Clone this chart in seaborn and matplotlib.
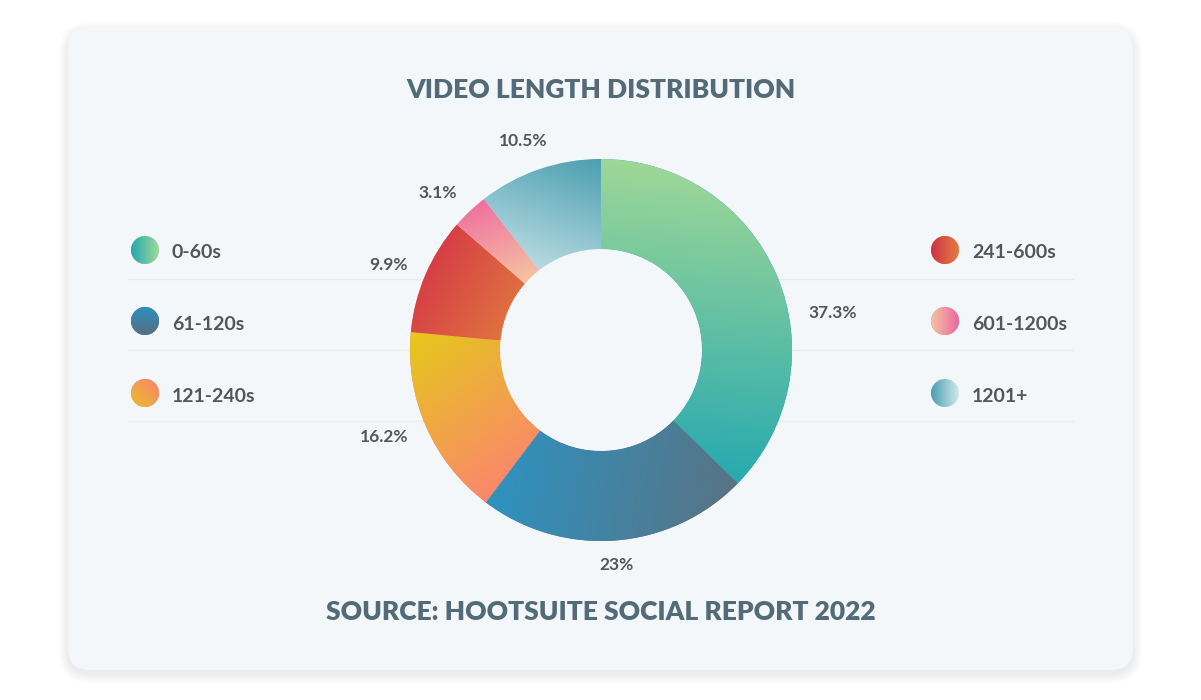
import numpy as np
import seaborn as sns
import matplotlib.pyplot as plt
from matplotlib.patches import FancyBboxPatch, Circle

categories = ['0-60s', '61-120s', '121-240s', '241-600s', '601-1200s', '1201+']
shares = [37.3, 23, 16.2, 9.9, 3.1, 10.5]

# gradient pairs (start -> end) for slices, plus direction in degrees
slice_grad = [('#a4da96', '#22a7b1', -95), ('#2c94c3', '#5a7282', -10),
              ('#e4c91a', '#ff7b7b', -55), ('#d22c48', '#e27d3e', -30),
              ('#ef67a0', '#f6c9a2', -70), ('#4b9eb0', '#c8e4e9', -110)]
legend_grad = [('#22a8ae', '#a2d99a', 0), ('#2e8fbf', '#557080', -90),
               ('#e8c028', '#fc8070', 45), ('#d0304a', '#e27e40', 0),
               ('#f2c6a0', '#ee65a0', 0), ('#4a9eb0', '#d2e9ec', 0)]
# small angular nudge of the outside labels (deg)
label_nudge = [-13, 0, 0, 0, 0, -4]

W, H = 1201, 700
BG = '#f4f7fa'
TXT = '#555555'
HEAD = '#536b78'

sns.set_theme(style='white')
plt.rcParams['font.family'] = ['Lato', 'DejaVu Sans']

fig = plt.figure(figsize=(W / 100, H / 100), dpi=100)
fig.patch.set_facecolor('white')
ax = fig.add_axes([0, 0, 1, 1])
ax.set_axis_off()


def Y(y):
    return H - y


def grad_fill(patch, c1, c2, angle, z):
    bb = patch.get_path().get_extents(patch.get_patch_transform())
    x0, y0, x1, y1 = bb.x0, bb.y0, bb.x1, bb.y1
    g = np.linspace(0, 1, 300)
    gx, gy = np.meshgrid(g, g)
    a = np.deg2rad(angle)
    proj = gx * np.cos(a) * (x1 - x0) + gy * np.sin(a) * (y1 - y0)
    t = (proj - proj.min()) / (proj.max() - proj.min())
    cmap = sns.blend_palette([c1, c2], n_colors=256, as_cmap=True)
    im = ax.imshow(t, cmap=cmap, extent=[x0, x1, y0, y1], origin='lower',
                   aspect='auto', interpolation='bilinear', zorder=z)
    im.set_clip_path(patch)


# card with soft shadow
for i in range(10):
    ax.add_patch(FancyBboxPatch((68 - i, Y(670) - 4 - i), 1065 + 2 * i, 643 + 2 * i,
                                boxstyle='round,pad=0,rounding_size=%d' % (22 + i),
                                fc='#8a96a0', ec='none', alpha=0.012, zorder=0))
ax.add_patch(FancyBboxPatch((68, Y(670)), 1065, 643,
                            boxstyle='round,pad=0,rounding_size=22',
                            fc=BG, ec='none', zorder=1))

# separator lines
for y in [279, 350, 421]:
    ax.plot([128, 1073], [Y(y), Y(y)], color='#ecebe9', lw=1, zorder=2)

cx, cy, R = 601, Y(350), 191
wedges, _ = ax.pie(shares, radius=R, center=(cx, cy), startangle=90,
                   counterclock=False, frame=True,
                   wedgeprops=dict(width=90, linewidth=0))
for w, (c1, c2, ang) in zip(wedges, slice_grad):
    w.set_facecolor(c2)
    w.set_zorder(3)
    grad_fill(w, c1, c2, ang, 4)
ax.add_patch(Circle((cx, cy), R - 90, fc=BG, ec='none', zorder=3))

# outside percentage labels
for w, v, nd in zip(wedges, shares, label_nudge):
    mid = np.deg2rad((w.theta1 + w.theta2) / 2 + nd)
    dx, dy = np.cos(mid), np.sin(mid)
    ha = 'center' if abs(dx) < 0.2 else ('left' if dx > 0 else 'right')
    txt = ('%.1f' % v).rstrip('0').rstrip('.') + '%'
    ax.text(cx + 1.1 * R * dx, cy + 1.13 * R * dy, txt, color=TXT, fontsize=12.5,
            fontweight='bold', ha=ha, va='center', zorder=5)

# legend
rows = [250, 321, 393]
for i, (lab, (c1, c2, ang)) in enumerate(zip(categories, legend_grad)):
    lx = 145 if i < 3 else 945
    ly = Y(rows[i % 3])
    dot = Circle((lx, ly), 14, fc=c2, ec='none', zorder=3)
    ax.add_patch(dot)
    grad_fill(dot, c1, c2, ang, 4)
    ax.text(lx + 27, ly - 3, lab, color=TXT, fontsize=14, fontweight='bold',
            ha='left', va='center', zorder=5)

ax.text(601, Y(90), 'VIDEO LENGTH DISTRIBUTION', color=HEAD, fontsize=19,
        fontweight='heavy', ha='center', va='center', zorder=5)
ax.text(601, Y(612), 'SOURCE: HOOTSUITE SOCIAL REPORT 2022', color=HEAD, fontsize=19,
        fontweight='heavy', ha='center', va='center', zorder=5)

ax.set_xlim(0, W)
ax.set_ylim(0, H)
ax.set_aspect('auto')
fig.savefig('out.png', dpi=100, facecolor='white')
